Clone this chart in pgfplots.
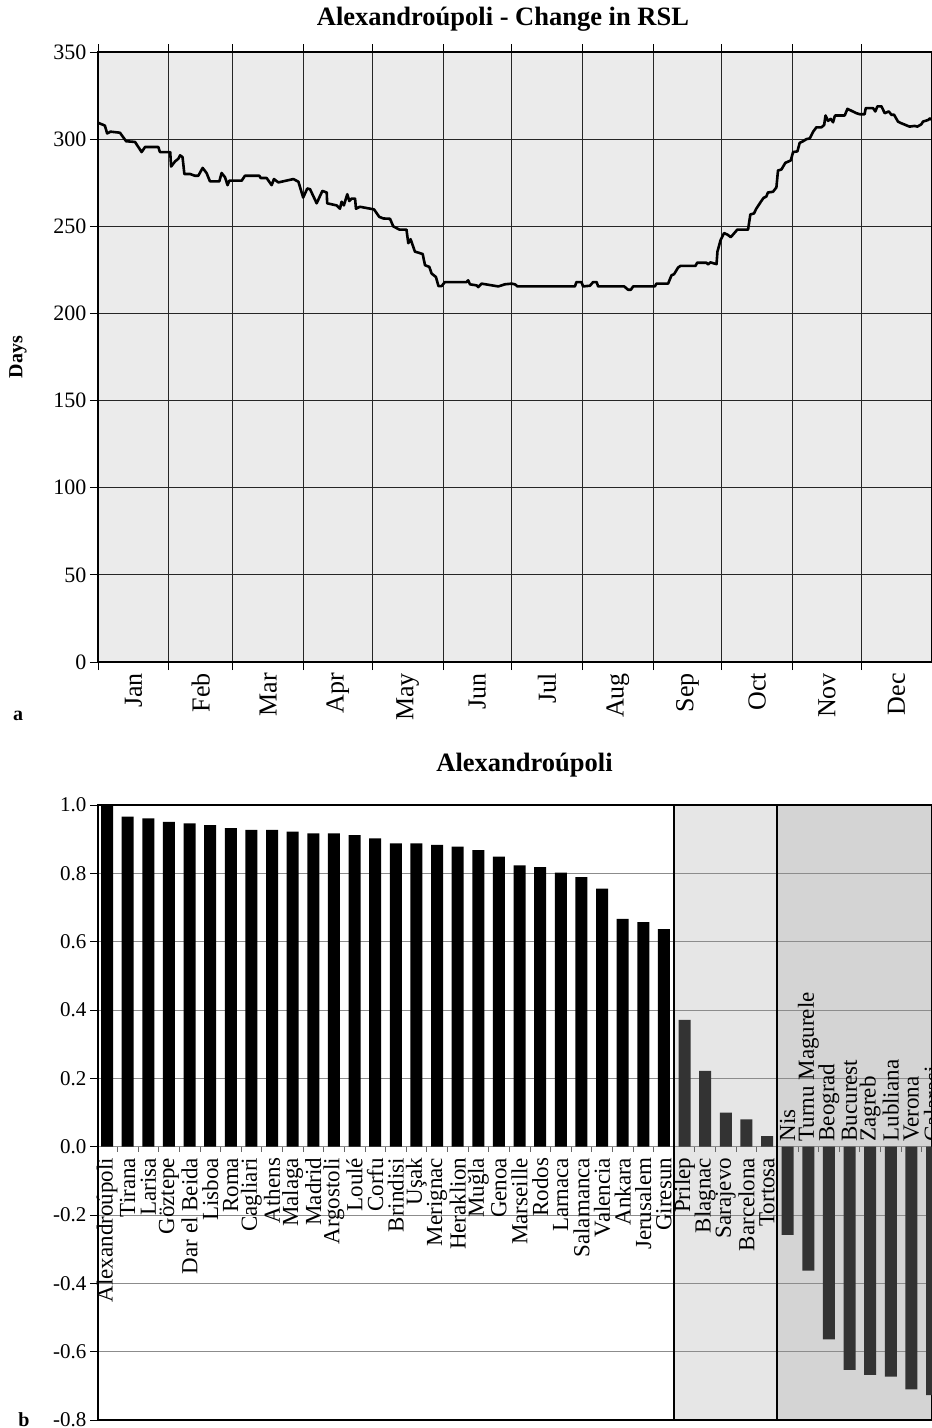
\documentclass[border=0pt]{standalone}
\usepackage{fontspec}
\setmainfont{Liberation Serif}
\usepackage{pgfplots}
\pgfplotsset{compat=1.18}
\usepackage{pgfplotstable}
\definecolor{bgA}{HTML}{EBEBEB}
\definecolor{bgT}{HTML}{E6E6E6}
\definecolor{bgII}{HTML}{D4D4D4}
\definecolor{barD}{HTML}{333333}

\pgfplotstableread{
d v
0 309.5
0.6 309.1
3 307.8
4 303.3
5.5 304.3
9.6 303.7
12.3 298.8
16.2 298.4
19.1 292.6
20.6 295.5
26.4 295.5
27.1 292.6
31.6 292.6
32 284.3
33.7 287.2
35.2 288.8
35.9 290.7
37 289.7
37.8 280
40.3 280
42.4 279
43.9 279
45.8 283.5
47.5 280.6
49 275.8
53.1 275.8
54.1 280.6
55.6 278.1
56.7 273.6
57.5 276.2
62.9 276.2
64.3 279
70.6 279
71.2 277.7
73.8 277.7
76 273.6
77 277.1
78.9 275.2
80.4 275.6
85.5 277.1
87.7 275.6
89.8 266.5
91.6 271.7
92.8 271.3
95.7 263.2
98.2 270.3
100.1 269.4
100.3 263.2
104.4 262
105.9 260.1
106.6 264.1
107.6 262
109.1 268.4
110 264.5
111 265.9
112.5 265.9
112.9 260.1
114.6 261.2
120.8 259.7
123.1 255.4
124.9 254.5
127.8 254.3
129.2 250
131.9 248.1
135 248.1
135.8 240.3
136.8 242.6
138.7 235.5
142.1 234.1
143.1 227.7
145 226.7
146 222.9
147.9 220.9
149 215.7
150.4 215.7
151.8 218
161.3 218
162 219
162.8 216.7
165.7 216.1
166.4 215.1
167.9 217.1
175.2 215.5
178 216.7
181 217.1
182.5 216.7
183.6 215.5
208.7 215.5
209.4 218
211.6 218
212.3 215.5
215.3 215.9
216.7 218
218.2 218
218.9 215.5
230.3 215.5
232 213.6
233.2 213.6
234.2 215.5
243.7 215.5
244.4 217.1
249.5 217.1
251 221.9
252.1 222.5
253.9 226.4
255 227.3
261.5 227.3
262.2 229.1
266.3 229.1
267 228.1
268 229.3
270.7 228.3
271.1 235.5
272.5 242.2
274 246.1
275.5 245.2
276.9 243.8
277.9 245.2
279.8 248.1
284.5 248.1
285.5 256.8
287.1 257.4
288.1 260.1
290.3 264.5
291.3 266.3
292.5 267.1
293.2 269.4
295.4 269.8
296.9 272.3
297.6 282
299.1 282.6
300.8 286.4
303.2 287.8
304.2 292.6
306.1 293
307.1 297.9
308.6 298.8
310 300
311.5 300.4
313 304.3
314.4 306.8
316.6 306.8
317.8 308.1
318.4 313.6
319.5 310.5
320.7 311.6
321.7 309.7
322.4 313
322.7 313.6
326.8 313.6
328 317.4
329.7 316.3
331.9 314.9
333.4 314.3
335.5 314.3
336 317.8
339.2 317.8
340.2 315.9
341.1 318.8
342.9 318.8
344.3 314.9
346.1 315.9
347.2 314
348.4 314
350.1 310.1
351.6 309.1
355.2 307.2
357.4 307.6
358.6 307.2
360.3 308.5
361.1 310.1
363.3 311
364.2 312
365 311
}\rsl

\pgfplotstableread[col sep=comma]{
x,y,z,name
0,1.000,0,Alexandroúpoli
1,0.966,0,Tirana
2,0.961,0,Larisa
3,0.951,0,Göztepe
4,0.946,0,Dar el Beida
5,0.941,0,Lisboa
6,0.932,0,Roma
7,0.927,0,Cagliari
8,0.927,0,Athens
9,0.922,0,Malaga
10,0.917,0,Madrid
11,0.917,0,Argostoli
12,0.912,0,Loulé
13,0.902,0,Corfu
14,0.888,0,Brindisi
15,0.888,0,Uşak
16,0.883,0,Merignac
17,0.878,0,Heraklion
18,0.868,0,Muğla
19,0.849,0,Genoa
20,0.823,0,Marseille
21,0.818,0,Rodos
22,0.802,0,Larnaca
23,0.789,0,Salamanca
24,0.755,0,Valencia
25,0.667,0,Ankara
26,0.657,0,Jerusalem
27,0.637,0,Giresun
}\gI

\pgfplotstableread[col sep=comma]{
x,y,z,name
28,0.371,0,Prilep
29,0.222,0,Blagnac
30,0.100,0,Sarajevo
31,0.080,0,Barcelona
32,0.031,0,Tortosa
}\gT

\pgfplotstableread[col sep=comma]{
x,y,z,name
33,-0.258,0,Nis
34,-0.363,0,Turnu Magurele
35,-0.564,0,Beograd
36,-0.653,0,Bucurest
37,-0.668,0,Zagreb
38,-0.673,0,Lubliana
39,-0.710,0,Verona
40,-0.727,0,Calarasi
}\gII

\pgfplotstableread{
x y
0.5 -0.016
1.5 -0.016
2.5 -0.016
3.5 -0.016
4.5 -0.016
5.5 -0.016
6.5 -0.016
7.5 -0.016
8.5 -0.016
9.5 -0.016
10.5 -0.016
11.5 -0.016
12.5 -0.016
13.5 -0.016
14.5 -0.016
15.5 -0.016
16.5 -0.016
17.5 -0.016
18.5 -0.016
19.5 -0.016
20.5 -0.016
21.5 -0.016
22.5 -0.016
23.5 -0.016
24.5 -0.016
25.5 -0.016
26.5 -0.016
28.5 -0.016
29.5 -0.016
30.5 -0.016
31.5 -0.016
33.5 -0.016
34.5 -0.016
35.5 -0.016
36.5 -0.016
37.5 -0.016
38.5 -0.016
39.5 -0.016
}\bticks

\begin{document}
\begin{tikzpicture}

% ---------- panel a ----------
\begin{axis}[
  at={(98pt,-662pt)}, anchor=south west,
  width=834pt, height=610pt, scale only axis,
  xmin=0, xmax=365, ymin=0, ymax=350,
  axis background/.style={fill=bgA},
  xtick={0,31,59,90,120,151,181,212,243,273,304,334},
  xticklabels={},
  xmajorgrids, ymajorgrids,
  grid style={black!85, line width=0.8pt},
  extra x ticks={15.5,45,74.5,105,135.5,166,196.5,227.5,258,288.5,319,349.5},
  extra x tick labels={Jan,Feb,Mar,Apr,May,Jun,Jul,Aug,Sep,Oct,Nov,Dec},
  extra x tick style={grid=none, major tick length=0pt,
    tick label style={rotate=90, anchor=east, inner xsep=11pt, font=\fontsize{26}{26}\selectfont}},
  ytick={0,50,100,150,200,250,300,350},
  yticklabels={0,50,100,150,200,250,300,350},
  yticklabel style={font=\fontsize{22}{22}\selectfont},
  tick align=outside, major tick length=8pt,
  tick style={black, line width=0.8pt},
  axis line style={black, line width=1.2pt},
  ylabel={Days},
  every axis y label/.style={at={(axis description cs:-0.0959,0.5)}, rotate=90, anchor=center,
    font=\bfseries\fontsize{20}{20}\selectfont},
  title={Alexandroúpoli - Change in RSL},
  title style={at={(axis description cs:0.4856,1.034)}, anchor=base, inner sep=0pt,
    font=\bfseries\fontsize{26.5}{26.5}\selectfont},
]
\addplot[black, line width=2.6pt, line join=round, mark=none] table[x=d, y=v] {\rsl};
\end{axis}

% ---------- panel b ----------
\begin{axis}[
  at={(98pt,-1420pt)}, anchor=south west,
  width=834pt, height=615pt, scale only axis,
  set layers, clip=false,
  xmin=-0.44, xmax=40, ymin=-0.8, ymax=1.0,
  xtick=\empty,
  ytick={-0.8,-0.6,-0.4,-0.2,0,0.2,0.4,0.6,0.8,1.0},
  yticklabels={-0.8,-0.6,-0.4,-0.2,0.0,0.2,0.4,0.6,0.8,1.0},
  yticklabel style={font=\fontsize{21}{21}\selectfont},
  ymajorgrids, grid style={black!45, line width=0.8pt},
  tick align=outside, major tick length=8pt,
  tick style={black, line width=0.8pt},
  axis line style={black, line width=1.6pt},
  title={Alexandroúpoli},
  title style={at={(axis description cs:0.5114,1.044)}, anchor=base, inner sep=0pt,
    font=\bfseries\fontsize{26.5}{26.5}\selectfont},
]
\addplot[on layer=axis background, fill=bgT, draw=none, mark=none]
  coordinates {(27.5,-0.8) (32.5,-0.8) (32.5,1.0) (27.5,1.0)} -- cycle;
\addplot[on layer=axis background, fill=bgII, draw=none, mark=none]
  coordinates {(32.5,-0.8) (40.5,-0.8) (40.5,1.0) (32.5,1.0)} -- cycle;

\addplot[ybar, bar width=12pt, bar shift=0pt, fill=black, draw=none] table[x=x, y=y] {\gI};
\addplot[ybar, bar width=12pt, bar shift=0pt, fill=barD, draw=none] table[x=x, y=y] {\gT};
\addplot[ybar, bar width=12pt, bar shift=0pt, fill=barD, draw=none] table[x=x, y=y] {\gII};

\addplot[ycomb, black!60, line width=0.7pt, mark=none] table[x=x, y=y] {\bticks};

\addplot[black, line width=1.8pt, mark=none] coordinates {(27.5,-0.8) (27.5,1.0)};
\addplot[black, line width=1.8pt, mark=none] coordinates {(32.5,-0.8) (32.5,1.0)};
\addplot[black, line width=2.6pt, mark=none] coordinates {(-0.44,1.0) (40,1.0)};

\addplot[draw=none, mark=none, nodes near coords, point meta=explicit symbolic,
  nodes near coords style={rotate=90, anchor=east, inner xsep=11pt, inner ysep=0pt,
    font=\fontsize{23}{23}\selectfont, text=black}]
  table[x=x, y=z, meta=name] {\gI};
\addplot[draw=none, mark=none, nodes near coords, point meta=explicit symbolic,
  nodes near coords style={rotate=90, anchor=east, inner xsep=11pt, inner ysep=0pt,
    font=\fontsize{23}{23}\selectfont, text=black}]
  table[x=x, y=z, meta=name] {\gT};
\addplot[draw=none, mark=none, nodes near coords, point meta=explicit symbolic,
  nodes near coords style={rotate=90, anchor=west, inner xsep=5pt, inner ysep=0pt,
    font=\fontsize{23}{23}\selectfont, text=black}]
  table[x=x, y=z, meta=name] {\gII};
\end{axis}

\node[font=\bfseries\fontsize{20}{20}\selectfont, anchor=base] at (18pt,-720pt) {a};
\node[font=\bfseries\fontsize{20}{20}\selectfont, anchor=base] at (24pt,-1426pt) {b};

\pgfresetboundingbox
\path[use as bounding box] (0pt,0pt) rectangle (932pt,-1428pt);
\end{tikzpicture}
\end{document}
